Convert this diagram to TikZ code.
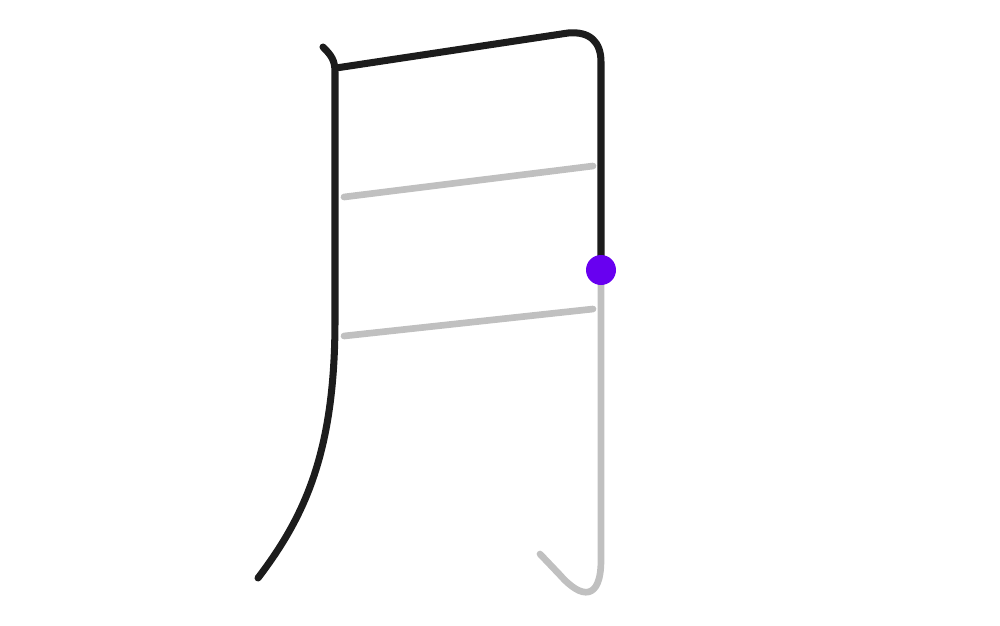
\documentclass[tikz,border=0pt]{standalone}
\usepackage{tikz}
\usetikzlibrary{positioning}
\definecolor{inkblack}{RGB}{28,28,28}
\definecolor{inkgray}{RGB}{192,192,192}
\definecolor{inkpurple}{RGB}{104,0,240}
\tikzset{
    donestroke/.style={
        draw=inkblack,
        line width=2pt,
        line cap=round,
        line join=round
    },
    todostroke/.style={
        draw=inkgray,
        line width=1.9pt,
        line cap=round,
        line join=round
    },
    penpoint/.style={
        circle,
        fill=inkpurple,
        inner sep=0pt,
        minimum size=3mm
    }
}
\begin{document}
\begin{tikzpicture}[x=0.1mm,y=-0.1mm]
    \useasboundingbox (0,0) rectangle (1000,625);
    % Remaining strokes
    \draw[todostroke] (344,197) -- (593,166);
    \draw[todostroke] (344,336) -- (593,309);
    \coordinate (pen) at (601,270);
    \draw[todostroke] (pen) -- (601,560) .. controls (601,600) and (582,600) .. (560,575) -- (540,554);
    % Written strokes
    \draw[donestroke] (323,47) .. controls (331,55) and (335,60) .. (335,72) -- (335,320)
        .. controls (335,450) and (306,515) .. (258,578);
    \draw[donestroke] (336,68) -- (568,33) .. controls (590,31) and (601,42) .. (601,62) -- (pen);
    % Current pen position
    \node[penpoint] (dot) at (pen) {};
\end{tikzpicture}
\end{document}
